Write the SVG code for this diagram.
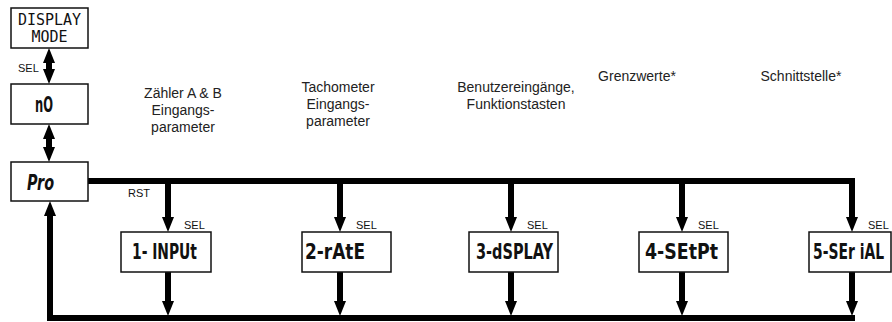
<svg xmlns="http://www.w3.org/2000/svg" width="892" height="322" viewBox="0 0 892 322">
<style>
.box{fill:#fff;stroke:#111;stroke-width:1.5}
.mode{font-family:"DejaVu Sans Mono",monospace;font-size:15px;fill:#111;text-anchor:middle}
.lcd{font-family:"DejaVu Sans Condensed","DejaVu Sans",sans-serif;font-weight:bold;font-size:21px;fill:#111}
.lbl{font-family:"Liberation Sans",Arial,sans-serif;font-size:14px;fill:#222;text-anchor:middle}
.sm{font-family:"Liberation Sans",Arial,sans-serif;font-size:11px;fill:#111}
.ln{fill:none;stroke:#000;stroke-width:6;stroke-linejoin:miter}
</style>
<defs>
<marker id="ah" viewBox="0 0 15 12" markerWidth="15" markerHeight="12" refX="3" refY="6" orient="auto-start-reverse" markerUnits="userSpaceOnUse">
<path d="M0,0 L15,6 L0,12 z" fill="#000"/>
</marker>
</defs>
<g id="connectors">
<path class="ln" d="M49,60 V72" marker-start="url(#ah)" marker-end="url(#ah)"/>
<path class="ln" d="M49,136 V150" marker-start="url(#ah)" marker-end="url(#ah)"/>
<path class="ln" d="M88,181 H852 V220" marker-end="url(#ah)"/>
<path class="ln" d="M168,181 V220" marker-end="url(#ah)"/>
<path class="ln" d="M340,181 V220" marker-end="url(#ah)"/>
<path class="ln" d="M511,181 V220" marker-end="url(#ah)"/>
<path class="ln" d="M682,181 V220" marker-end="url(#ah)"/>
<path class="ln" d="M168,272 V304" marker-end="url(#ah)"/>
<path class="ln" d="M340,272 V304" marker-end="url(#ah)"/>
<path class="ln" d="M511,272 V304" marker-end="url(#ah)"/>
<path class="ln" d="M682,272 V304" marker-end="url(#ah)"/>
<path class="ln" d="M852,272 V304" marker-end="url(#ah)"/>
<path class="ln" d="M855,318 H50 V213" marker-end="url(#ah)"/>
<text class="sm" x="18" y="72">SEL</text>
<text class="sm" x="128" y="197">RST</text>
<text class="sm" x="184" y="229">SEL</text>
<text class="sm" x="356" y="229">SEL</text>
<text class="sm" x="527" y="229">SEL</text>
<text class="sm" x="698" y="229">SEL</text>
<text class="sm" x="868" y="229">SEL</text>
</g>
<g id="display-mode">
<rect class="box" x="11" y="8" width="77" height="40"/>
<text class="mode" x="49.5" y="25">DISPLAY</text>
<text class="mode" x="49.5" y="42">MODE</text>
</g>
<g id="no">
<rect class="box" x="11" y="84" width="77" height="40"/>
<text class="lcd" x="35" y="112" textLength="18" lengthAdjust="spacingAndGlyphs" font-size="16">nO</text>
</g>
<g id="pro">
<rect class="box" x="11" y="162" width="77" height="39"/>
<text class="lcd" x="27" y="190" textLength="27" lengthAdjust="spacingAndGlyphs" font-size="18" font-style="italic">Pro</text>
</g>
<g id="input">
<rect class="box" x="121" y="232" width="90" height="40"/>
<text class="lcd" x="132" y="259" textLength="65" lengthAdjust="spacingAndGlyphs">1- INPUt</text>
</g>
<g id="rate">
<rect class="box" x="302" y="232" width="89" height="40"/>
<text class="lcd" x="305" y="259" textLength="60" lengthAdjust="spacingAndGlyphs">2-rAtE</text>
</g>
<g id="display">
<rect class="box" x="469" y="232" width="89" height="40"/>
<text class="lcd" x="476" y="259" textLength="77" lengthAdjust="spacingAndGlyphs">3-dSPLAY</text>
</g>
<g id="setpt">
<rect class="box" x="639" y="232" width="89" height="40"/>
<text class="lcd" x="645" y="259" textLength="73" lengthAdjust="spacingAndGlyphs">4-SEtPt</text>
</g>
<g id="serial">
<rect class="box" x="809" y="232" width="82" height="40"/>
<text class="lcd" x="813" y="259" textLength="71" lengthAdjust="spacingAndGlyphs">5-SEr iAL</text>
</g>
<g id="labels">
<text class="lbl" x="183" y="98">Zähler A &amp; B</text>
<text class="lbl" x="183" y="115">Eingangs-</text>
<text class="lbl" x="183" y="132">parameter</text>
<text class="lbl" x="338" y="92">Tachometer</text>
<text class="lbl" x="338" y="109">Eingangs-</text>
<text class="lbl" x="338" y="126">parameter</text>
<text class="lbl" x="516" y="92">Benutzereingänge,</text>
<text class="lbl" x="516" y="109">Funktionstasten</text>
<text class="lbl" x="637" y="81">Grenzwerte*</text>
<text class="lbl" x="801" y="81">Schnittstelle*</text>
</g>
</svg>
